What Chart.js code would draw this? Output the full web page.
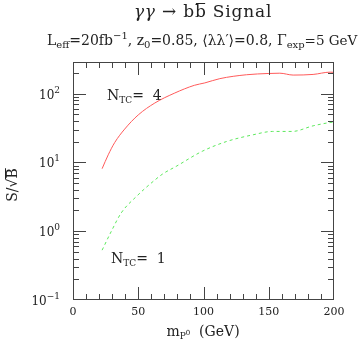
<!DOCTYPE html>
<html lang="en">
<head>
    <meta charset="UTF-8">
    <title>gamma gamma to b bbar signal</title>
    <script src="https://cdn.jsdelivr.net/npm/chart.js"></script>
    <style>
        body { margin: 0; background: #fff; }
        .wrap { width: 364px; height: 346px; }
    </style>
</head>
<body>
    <div class="wrap"><canvas id="sigChart" width="364" height="346"></canvas></div>

    <script>
        // N_TC = 4 (solid red)
        const massNtc4 = [22.3, 27, 32, 39.6, 50, 62.7, 78, 93, 101, 112.5, 133, 149.5, 158.5, 168.7, 184, 197, 200];
        const sigNtc4  = [8.1, 12.9, 19.5, 30.5, 49, 73, 102, 132, 143, 165, 188, 196, 198, 186, 190, 205, 204];
        // N_TC = 1 (dashed green)
        const massNtc1 = [22.3, 29.4, 37, 48.6, 63, 69, 79, 99, 117.6, 138, 153, 168, 184, 197, 200];
        const sigNtc1  = [0.53, 1.0, 1.85, 3.2, 5.6, 6.85, 8.75, 14.5, 20.1, 25.2, 28.2, 28.2, 34, 38, 38.5];

        const xMajor = [0, 50, 100, 150, 200];
        const xMinorStep = 10;
        const yDecades = [-1, 0, 1, 2];

        const serif = '"DejaVu Serif", serif';
        const ink = '#222';

        // draw a run of text pieces: [text, size, dy, italic]
        function rich(ctx, x, y, parts) {
            let cx = x;
            parts.forEach(p => {
                ctx.font = (p[3] ? 'italic ' : '') + p[1] + 'px ' + serif;
                ctx.fillText(p[0], cx, y + (p[2] || 0));
                cx += ctx.measureText(p[0]).width;
            });
            return cx;
        }
        function richWidth(ctx, parts) {
            let w = 0;
            parts.forEach(p => {
                ctx.font = (p[3] ? 'italic ' : '') + p[1] + 'px ' + serif;
                w += ctx.measureText(p[0]).width;
            });
            return w;
        }

        const decor = {
            id: 'decor',
            afterDraw(chart) {
                const ctx = chart.ctx;
                const a = chart.chartArea;
                const xs = chart.scales.x, ys = chart.scales.y;
                const L = Math.round(a.left), R = Math.round(a.right) - 1;
                const T = Math.round(a.top), B = Math.round(a.bottom) - 1;
                ctx.save();
                ctx.setLineDash([]);
                ctx.fillStyle = '#444';

                // frame
                ctx.fillRect(L, T, R - L + 1, 1);
                ctx.fillRect(L, B, R - L + 1, 1);
                ctx.fillRect(L, T, 1, B - T + 1);
                ctx.fillRect(R, T, 1, B - T + 1);

                // x ticks, top and bottom (inward)
                for (let i = 1; i * xMinorStep < 200; i++) {
                    const v = i * xMinorStep;
                    const px = Math.round(xs.getPixelForValue(v));
                    const len = v % 50 === 0 ? 12 : 5;
                    ctx.fillRect(px, B - len, 1, len);
                    ctx.fillRect(px, T + 1, 1, len);
                }
                // y ticks, left and right (inward)
                yDecades.forEach(d => {
                    for (let m = 1; m <= 9; m++) {
                        const v = m * Math.pow(10, d);
                        if (v <= 0.1 || v >= 288) continue;
                        const py = Math.round(ys.getPixelForValue(v));
                        const len = m === 1 ? 12 : 5;
                        ctx.fillRect(L + 1, py, len, 1);
                        ctx.fillRect(R - len, py, len, 1);
                    }
                });

                ctx.fillStyle = ink;
                ctx.textBaseline = 'alphabetic';
                // x tick labels
                ctx.textAlign = 'center';
                ctx.font = '11px ' + serif;
                xMajor.forEach(v => ctx.fillText(String(v), xs.getPixelForValue(v), 315));

                // y tick labels 10^d
                ctx.textAlign = 'left';
                yDecades.forEach(d => {
                    const py = ys.getPixelForValue(Math.pow(10, d));
                    const parts = [['10', 12, 0], [d < 0 ? '\u2212' + (-d) : String(d), 9, -6]];
                    const w = richWidth(ctx, parts);
                    rich(ctx, 60 - w, py + 5, parts);
                });

                // title
                ctx.letterSpacing = '0.8px';
                const tParts = [['\u03b3\u03b3', 17, 0, true], [' \u2192 b', 17, 0], ['b', 17, 0], [' Signal', 17, 0]];
                let tx = 203 - richWidth(ctx, tParts) / 2;
                ctx.font = 'italic 17px ' + serif;
                let x1 = tx + ctx.measureText('\u03b3\u03b3').width;
                ctx.font = '17px ' + serif;
                x1 += ctx.measureText(' \u2192 b').width;
                const bw = ctx.measureText('b').width;
                rich(ctx, tx, 17, tParts);
                ctx.fillRect(x1 + 1, 3, bw - 2.5, 1);

                // subtitle
                ctx.letterSpacing = '0px';
                rich(ctx, 47, 45, [
                    ['L', 14, 0], ['eff', 10, 3], ['=20fb', 14, 0], ['\u22121', 10, -6],
                    [', z', 14, 0], ['0', 10, 3], ['=0.85, \u27e8\u03bb\u03bb\u2032\u27e9=0.8, \u0393', 14, 0],
                    ['exp', 10, 3], ['=5 GeV', 13.5, 0]
                ]);

                // curve labels
                rich(ctx, 107, 100, [['N', 14, 0], ['TC', 9, 3], ['=  4', 14, 0]]);
                rich(ctx, 111, 263, [['N', 14, 0], ['TC', 9, 3], ['=  1', 14, 0]]);

                // x axis title
                const xt = [['m', 14, 0], ['P', 9, 3], ['0', 7, -1], ['  (GeV)', 14, 0]];
                rich(ctx, 203 - richWidth(ctx, xt) / 2, 336, xt);

                // y axis title, rotated
                ctx.translate(17, 185);
                ctx.rotate(-Math.PI / 2);
                const yt = [['S/\u221a', 14, 0], ['B', 14, 0]];
                const yw = richWidth(ctx, yt);
                const yx = -yw / 2;
                ctx.font = '14px ' + serif;
                const bx = yx + ctx.measureText('S/\u221a').width;
                const bW = ctx.measureText('B').width;
                rich(ctx, yx, 0, yt);
                ctx.fillRect(bx - 0.5, -12, bW + 0.5, 1);
                ctx.restore();
            }
        };

        const toPts = (xs, ys) => xs.map((x, i) => ({ x: x, y: ys[i] }));

        new Chart(document.getElementById('sigChart'), {
            type: 'line',
            data: {
                datasets: [{
                    label: 'N_TC = 4',
                    data: toPts(massNtc4, sigNtc4),
                    borderColor: '#ff5a5a',
                    borderWidth: 1,
                    pointRadius: 0,
                    cubicInterpolationMode: 'monotone'
                }, {
                    label: 'N_TC = 1',
                    data: toPts(massNtc1, sigNtc1),
                    borderColor: '#5ce85c',
                    borderWidth: 1,
                    borderDash: [3, 3],
                    pointRadius: 0,
                    cubicInterpolationMode: 'monotone'
                }]
            },
            options: {
                responsive: false,
                animation: false,
                layout: { padding: { left: 73, right: 30, top: 62, bottom: 46 } },
                plugins: { legend: { display: false }, tooltip: { enabled: false } },
                scales: {
                    x: { type: 'linear', min: 0, max: 200, display: false },
                    y: { type: 'logarithmic', min: 0.1, max: 288, display: false }
                }
            },
            plugins: [decor]
        });
    </script>
</body>
</html>
